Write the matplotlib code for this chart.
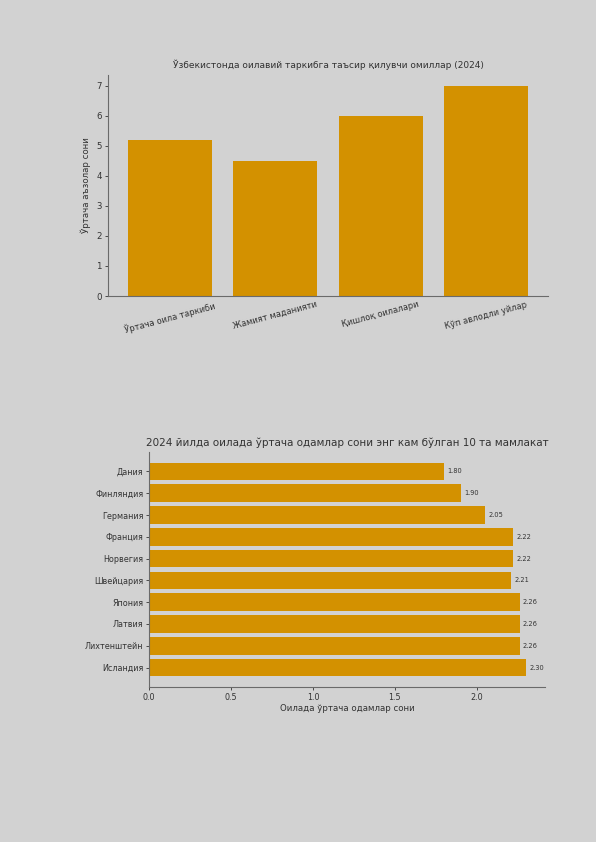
import matplotlib
matplotlib.use("Agg")
import matplotlib.pyplot as plt

plt.rcParams['font.family'] = ['DejaVu Sans']

top_categories = ["Ўртача оила таркиби", "Жамият маданияти", "Қишлоқ оилалари", "Кўп авлодли уйлар"]
top_values = [5.2, 4.5, 6.0, 7.0]
top_title = "Ўзбекистонда оилавий таркибга таъсир қилувчи омиллар (2024)"
top_ylabel = "Ўртача аъзолар сони"

countries = ["Дания", "Финляндия", "Германия", "Франция", "Норвегия",
             "Швейцария", "Япония", "Латвия", "Лихтенштейн", "Исландия"]
country_values = [1.80, 1.90, 2.05, 2.22, 2.22, 2.21, 2.26, 2.26, 2.26, 2.30]
bottom_title = "2024 йилда оилада ўртача одамлар сони энг кам бўлган 10 та мамлакат"
bottom_xlabel = "Оилада ўртача одамлар сони"

BG = "#d2d2d2"
BAR = "#d39100"
SPINE = "#6a6a6a"
TXT = "#333333"

W, H = 596, 842
fig = plt.figure(figsize=(W / 100, H / 100), dpi=100, facecolor=BG)

def ax_rect(x0, y0, x1, y1):
    return [x0 / W, 1 - y1 / H, (x1 - x0) / W, (y1 - y0) / H]

# Top chart
ax1 = fig.add_axes(ax_rect(108, 75, 548, 296))
ax1.set_facecolor(BG)
ax1.bar(range(len(top_categories)), top_values, width=0.8, color=BAR)
ax1.set_xticks(range(len(top_categories)))
ax1.set_xticklabels(top_categories, rotation=15, fontsize=6.0, color=TXT)
ax1.tick_params(axis='y', labelsize=6.2, colors=TXT, length=2.5, width=0.6, pad=2)
ax1.tick_params(axis='x', length=0, pad=3)
ax1.set_ylabel(top_ylabel, fontsize=6.2, color=TXT, labelpad=4)
ax1.set_title(top_title, fontsize=6.5, color=TXT, pad=5)
for s in ['top', 'right']:
    ax1.spines[s].set_visible(False)
for s in ['left', 'bottom']:
    ax1.spines[s].set_color(SPINE)
    ax1.spines[s].set_linewidth(0.8)

# Bottom chart
ax2 = fig.add_axes(ax_rect(149, 452, 545, 687))
ax2.set_facecolor(BG)
bars = ax2.barh(range(len(countries)), country_values, height=0.8, color=BAR)
ax2.set_yticks(range(len(countries)))
ax2.set_yticklabels(countries, fontsize=5.8, color=TXT)
ax2.invert_yaxis()
ax2.tick_params(axis='both', labelsize=5.8, colors=TXT, length=2.5, width=0.6, pad=1.5)
ax2.set_xlabel(bottom_xlabel, fontsize=6.2, color=TXT, labelpad=2)
ax2.set_title(bottom_title, fontsize=7.5, color=TXT, pad=4)
for b, v in zip(bars, country_values):
    ax2.text(b.get_width() + 0.02, b.get_y() + b.get_height() / 2, f"{v:.2f}",
             va='center', ha='left', fontsize=4.8, color=TXT)
for s in ['top', 'right']:
    ax2.spines[s].set_visible(False)
for s in ['left', 'bottom']:
    ax2.spines[s].set_color(SPINE)
    ax2.spines[s].set_linewidth(0.8)

fig.savefig("out.png", dpi=100, facecolor=BG)
